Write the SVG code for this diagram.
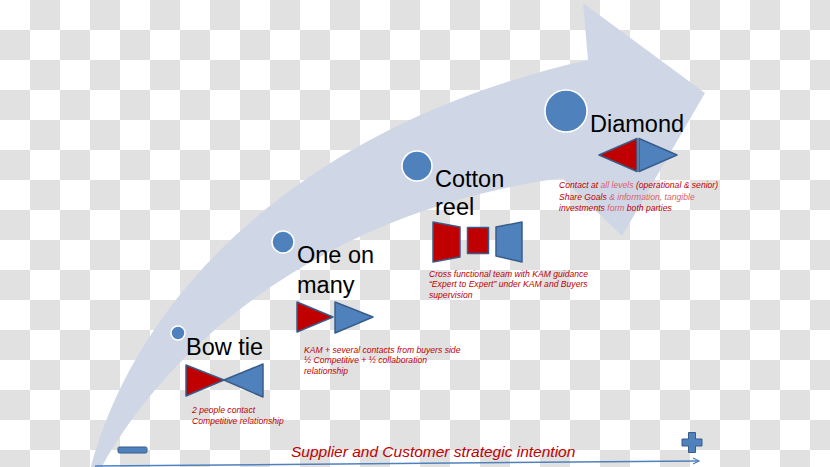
<svg xmlns="http://www.w3.org/2000/svg" width="830" height="467" viewBox="0 0 830 467">
<defs>
<pattern id="checker" x="0" y="0" width="60" height="60" patternUnits="userSpaceOnUse">
<rect x="0" y="0" width="60" height="60" fill="#ffffff"/>
<rect x="30" y="0" width="30" height="30" fill="#e1e1e1"/>
<rect x="0" y="30" width="30" height="30" fill="#e1e1e1"/>
</pattern>
<marker id="open" markerWidth="10" markerHeight="10" refX="7" refY="4" orient="auto" markerUnits="userSpaceOnUse">
<path d="M1,1 L7,4 L1,7" fill="none" stroke="#4f81bd" stroke-width="1.2"/>
</marker>
</defs>
<style>
.lbl{font-family:"Liberation Sans",Arial,sans-serif;font-size:23.5px;fill:#000}
.desc{font-family:"Liberation Sans",Arial,sans-serif;font-style:italic;font-size:8.6px;fill:#c00000}
.lt{fill:#d8606c}
.dot{fill:#4f81bd;stroke:#ffffff;stroke-width:1.5}
.red{fill:#c00000;stroke:#385d8a;stroke-width:1.5;stroke-linejoin:round}
.blue{fill:#4f81bd;stroke:#385d8a;stroke-width:1.5;stroke-linejoin:round}
</style>
<rect width="830" height="467" fill="url(#checker)"/>

<g id="big-arrow">
<path d="M90,470 C140,280 320,120 588,60 L583,3 L705,93 L622,236 L562,178 C330,210 170,340 100,470 Z" fill="#cfd7e6"/>
</g>

<g id="bow-tie">
<circle class="dot" cx="178" cy="333" r="7"/>
<text class="lbl" x="186" y="355">Bow tie</text>
<polygon class="red" points="186,365 186,396 224,380"/>
<polygon class="blue" points="224,380 263,364 263,397"/>
<text class="desc" x="192" y="412.5">2 people contact</text>
<text class="desc" x="192" y="423.5">Competitive relationship</text>
</g>

<g id="one-on-many">
<circle class="dot" cx="283" cy="242" r="11"/>
<text class="lbl" x="297" y="263">One on</text>
<text class="lbl" x="297" y="293">many</text>
<polygon class="red" points="297,302 297,332 333,317"/>
<polygon class="blue" points="335,302 335,333 373,317"/>
<text class="desc" x="304" y="352.5">KAM + several contacts from buyers side</text>
<text class="desc" x="304" y="363.3">½ Competitive + ½ collaboration</text>
<text class="desc" x="304" y="374">relationship</text>
</g>

<g id="cotton-reel">
<circle class="dot" cx="417" cy="166" r="15"/>
<text class="lbl" x="435" y="187">Cotton</text>
<text class="lbl" x="435" y="215">reel</text>
<polygon class="red" points="433,222 460,227 460,257 433,262"/>
<rect class="red" x="467.5" y="227.5" width="21" height="26"/>
<polygon class="blue" points="496,227 522,222 522,262 496,256"/>
<text class="desc" x="429" y="276.7">Cross functional team with KAM guidance</text>
<text class="desc" x="429" y="287.3">“Expert to Expert” under KAM and Buyers</text>
<text class="desc" x="429" y="298">supervision</text>
</g>

<g id="diamond">
<circle class="dot" cx="566" cy="111" r="21"/>
<text class="lbl" x="590" y="132">Diamond</text>
<polygon class="red" points="599,155 637,138.5 637,171.5"/>
<polygon class="blue" points="639,138.5 677,155 639,171.5"/>
<text class="desc" x="559" y="188.3">Contact at <tspan class="lt">all levels</tspan> (operational &amp; senior)</text>
<text class="desc" x="559" y="199.5">Share Goals <tspan class="lt">&amp; information, tangible</tspan></text>
<text class="desc" x="559" y="210.7">investments <tspan class="lt">form</tspan> both parties</text>
</g>

<g id="connectors">
<line x1="95" y1="466" x2="699" y2="461" stroke="#4f81bd" stroke-width="1.5" marker-end="url(#open)"/>
</g>

<g id="axis-labels">
<rect x="118" y="447" width="29" height="6" rx="1.5" fill="#4f81bd" stroke="#385d8a" stroke-width="1"/>
<path d="M688.5,432.5 h7 v6.5 h6.5 v7 h-6.5 v6.5 h-7 v-6.5 h-6.5 v-7 h6.5 Z" fill="#4f81bd" stroke="#385d8a" stroke-width="1" stroke-linejoin="round"/>
<text x="291" y="457" font-family="Liberation Sans, Arial, sans-serif" font-style="italic" font-size="15.5" fill="#c00000">Supplier and Customer strategic intention</text>
</g>
</svg>
